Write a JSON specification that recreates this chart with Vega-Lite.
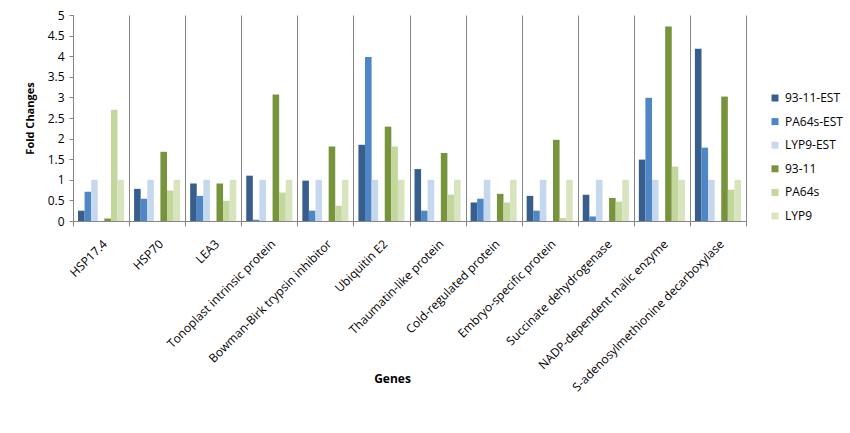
{
  "$schema": "https://vega.github.io/schema/vega-lite/v6.json",
  "width": 673,
  "height": 206,
  "autosize": {"type": "none"},
  "padding": {"left": 73, "top": 15, "right": 104, "bottom": 212},
  "background": "white",
  "config": {"font": "Open Sans", "view": {"stroke": null}},
  "data": {
    "values": [
      {"gene": "HSP17.4", "series": "93-11-EST", "value": 0.25},
      {"gene": "HSP17.4", "series": "PA64s-EST", "value": 0.71},
      {"gene": "HSP17.4", "series": "LYP9-EST", "value": 1},
      {"gene": "HSP17.4", "series": "93-11", "value": 0.06},
      {"gene": "HSP17.4", "series": "PA64s", "value": 2.7},
      {"gene": "HSP17.4", "series": "LYP9", "value": 1},
      {"gene": "HSP70", "series": "93-11-EST", "value": 0.78},
      {"gene": "HSP70", "series": "PA64s-EST", "value": 0.54},
      {"gene": "HSP70", "series": "LYP9-EST", "value": 1},
      {"gene": "HSP70", "series": "93-11", "value": 1.68},
      {"gene": "HSP70", "series": "PA64s", "value": 0.74},
      {"gene": "HSP70", "series": "LYP9", "value": 1},
      {"gene": "LEA3", "series": "93-11-EST", "value": 0.91},
      {"gene": "LEA3", "series": "PA64s-EST", "value": 0.61},
      {"gene": "LEA3", "series": "LYP9-EST", "value": 1},
      {"gene": "LEA3", "series": "93-11", "value": 0.91},
      {"gene": "LEA3", "series": "PA64s", "value": 0.49},
      {"gene": "LEA3", "series": "LYP9", "value": 1},
      {"gene": "Tonoplast intrinsic protein", "series": "93-11-EST", "value": 1.1},
      {"gene": "Tonoplast intrinsic protein", "series": "PA64s-EST", "value": 0.03},
      {"gene": "Tonoplast intrinsic protein", "series": "LYP9-EST", "value": 1},
      {"gene": "Tonoplast intrinsic protein", "series": "93-11", "value": 3.07},
      {"gene": "Tonoplast intrinsic protein", "series": "PA64s", "value": 0.69},
      {"gene": "Tonoplast intrinsic protein", "series": "LYP9", "value": 1},
      {"gene": "Bowman-Birk trypsin inhibitor", "series": "93-11-EST", "value": 0.98},
      {"gene": "Bowman-Birk trypsin inhibitor", "series": "PA64s-EST", "value": 0.25},
      {"gene": "Bowman-Birk trypsin inhibitor", "series": "LYP9-EST", "value": 1},
      {"gene": "Bowman-Birk trypsin inhibitor", "series": "93-11", "value": 1.81},
      {"gene": "Bowman-Birk trypsin inhibitor", "series": "PA64s", "value": 0.37},
      {"gene": "Bowman-Birk trypsin inhibitor", "series": "LYP9", "value": 1},
      {"gene": "Ubiquitin E2", "series": "93-11-EST", "value": 1.85},
      {"gene": "Ubiquitin E2", "series": "PA64s-EST", "value": 3.98},
      {"gene": "Ubiquitin E2", "series": "LYP9-EST", "value": 1},
      {"gene": "Ubiquitin E2", "series": "93-11", "value": 2.29},
      {"gene": "Ubiquitin E2", "series": "PA64s", "value": 1.81},
      {"gene": "Ubiquitin E2", "series": "LYP9", "value": 1},
      {"gene": "Thaumatin-like protein", "series": "93-11-EST", "value": 1.26},
      {"gene": "Thaumatin-like protein", "series": "PA64s-EST", "value": 0.25},
      {"gene": "Thaumatin-like protein", "series": "LYP9-EST", "value": 1},
      {"gene": "Thaumatin-like protein", "series": "93-11", "value": 1.65},
      {"gene": "Thaumatin-like protein", "series": "PA64s", "value": 0.64},
      {"gene": "Thaumatin-like protein", "series": "LYP9", "value": 1},
      {"gene": "Cold-regulated protein", "series": "93-11-EST", "value": 0.45},
      {"gene": "Cold-regulated protein", "series": "PA64s-EST", "value": 0.54},
      {"gene": "Cold-regulated protein", "series": "LYP9-EST", "value": 1},
      {"gene": "Cold-regulated protein", "series": "93-11", "value": 0.66},
      {"gene": "Cold-regulated protein", "series": "PA64s", "value": 0.45},
      {"gene": "Cold-regulated protein", "series": "LYP9", "value": 1},
      {"gene": "Embryo-specific protein", "series": "93-11-EST", "value": 0.61},
      {"gene": "Embryo-specific protein", "series": "PA64s-EST", "value": 0.25},
      {"gene": "Embryo-specific protein", "series": "LYP9-EST", "value": 1},
      {"gene": "Embryo-specific protein", "series": "93-11", "value": 1.97},
      {"gene": "Embryo-specific protein", "series": "PA64s", "value": 0.07},
      {"gene": "Embryo-specific protein", "series": "LYP9", "value": 1},
      {"gene": "Succinate dehydrogenase", "series": "93-11-EST", "value": 0.64},
      {"gene": "Succinate dehydrogenase", "series": "PA64s-EST", "value": 0.11},
      {"gene": "Succinate dehydrogenase", "series": "LYP9-EST", "value": 1},
      {"gene": "Succinate dehydrogenase", "series": "93-11", "value": 0.56},
      {"gene": "Succinate dehydrogenase", "series": "PA64s", "value": 0.47},
      {"gene": "Succinate dehydrogenase", "series": "LYP9", "value": 1},
      {"gene": "NADP-dependent malic enzyme", "series": "93-11-EST", "value": 1.49},
      {"gene": "NADP-dependent malic enzyme", "series": "PA64s-EST", "value": 2.99},
      {"gene": "NADP-dependent malic enzyme", "series": "LYP9-EST", "value": 1},
      {"gene": "NADP-dependent malic enzyme", "series": "93-11", "value": 4.72},
      {"gene": "NADP-dependent malic enzyme", "series": "PA64s", "value": 1.32},
      {"gene": "NADP-dependent malic enzyme", "series": "LYP9", "value": 1},
      {"gene": "S-adenosylmethionine decarboxylase", "series": "93-11-EST", "value": 4.18},
      {"gene": "S-adenosylmethionine decarboxylase", "series": "PA64s-EST", "value": 1.78},
      {"gene": "S-adenosylmethionine decarboxylase", "series": "LYP9-EST", "value": 1},
      {"gene": "S-adenosylmethionine decarboxylase", "series": "93-11", "value": 3.02},
      {"gene": "S-adenosylmethionine decarboxylase", "series": "PA64s", "value": 0.76},
      {"gene": "S-adenosylmethionine decarboxylase", "series": "LYP9", "value": 1}
    ]
  },
  "mark": {"type": "bar"},
  "encoding": {
    "x": {
      "field": "gene",
      "type": "nominal",
      "sort": ["HSP17.4", "HSP70", "LEA3", "Tonoplast intrinsic protein", "Bowman-Birk trypsin inhibitor", "Ubiquitin E2", "Thaumatin-like protein", "Cold-regulated protein", "Embryo-specific protein", "Succinate dehydrogenase", "NADP-dependent malic enzyme", "S-adenosylmethionine decarboxylase"],
      "scale": {"paddingInner": 0, "paddingOuter": 0},
      "axis": {
        "title": "Genes",
        "titleFontSize": 12,
        "titleFontWeight": "bold",
        "titleColor": "#000000",
        "titleX": 319,
        "titleY": 152,
        "labelAngle": -45,
        "labelAlign": "right",
        "labelBaseline": "top",
        "labelFontSize": 12,
        "labelColor": "#000000",
        "labelPadding": 12,
        "labelLimit": 0,
        "tickBand": "extent",
        "grid": true,
        "gridColor": "#868686",
        "gridWidth": 1,
        "domainColor": "#868686",
        "tickColor": "#868686",
        "tickSize": 5
      }
    },
    "xOffset": {
      "field": "series",
      "type": "nominal",
      "scale": {"domain": ["93-11-EST", "PA64s-EST", "LYP9-EST", "gap", "93-11", "PA64s", "LYP9"], "paddingInner": 0, "paddingOuter": 0.76}
    },
    "y": {
      "field": "value",
      "type": "quantitative",
      "scale": {"domain": [0, 5], "nice": false},
      "axis": {
        "title": "Fold Changes",
        "titleFontSize": 11,
        "titleFontWeight": "bold",
        "titleColor": "#000000",
        "titlePadding": 12,
        "values": [0, 0.5, 1, 1.5, 2, 2.5, 3, 3.5, 4, 4.5, 5],
        "format": "~g",
        "grid": false,
        "labelFontSize": 12,
        "labelColor": "#000000",
        "labelPadding": 5,
        "tickSize": 4,
        "tickColor": "#868686",
        "domainColor": "#868686"
      }
    },
    "color": {
      "field": "series",
      "type": "nominal",
      "scale": {
        "domain": ["93-11-EST", "PA64s-EST", "LYP9-EST", "93-11", "PA64s", "LYP9"],
        "range": ["#385E8E", "#4F86C6", "#C6D8EE", "#77933C", "#C3D69B", "#D7E4BD"]
      },
      "legend": {
        "title": null,
        "orient": "none",
        "legendX": 696,
        "legendY": 77,
        "symbolType": "square",
        "symbolSize": 49,
        "symbolStrokeWidth": 0,
        "labelFontSize": 12,
        "labelColor": "#000000",
        "labelOffset": 4,
        "rowPadding": 11.6,
        "padding": 0
      }
    }
  }
}
